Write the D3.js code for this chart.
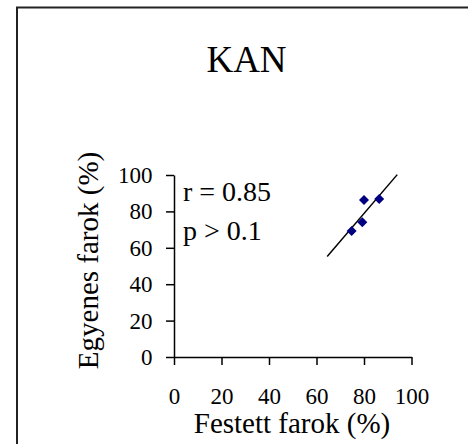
<!DOCTYPE html>
<html>
<head>
<meta charset="utf-8">
<script src="https://cdn.jsdelivr.net/npm/d3@7"></script>
<style>
html,body{margin:0;padding:0;background:#fff;}
svg{display:block;}
</style>
</head>
<body>
<svg id="chart" width="468" height="444"></svg>
<script>
const title = "KAN";
const xLabel = "Festett farok (%)";
const yLabel = "Egyenes farok (%)";
const statLines = ["r = 0.85", "p > 0.1"];
const xTicks = [0, 20, 40, 60, 80, 100];
const yTicks = [0, 20, 40, 60, 80, 100];
const xValues = [80, 86.4, 79.3, 74.8];
const yValues = [86.3, 86.8, 74, 69.2];
const trendX = [64.5, 94];
const trendY = [55.2, 100.2];

const FONT = "'Liberation Serif', 'Times New Roman', Times, serif";
const svg = d3.select("#chart");

// outer frame
svg.append("rect").attr("x", 17).attr("y", 7.5).attr("width", 480).attr("height", 480)
  .attr("fill", "none").attr("stroke", "#222").attr("stroke-width", 2);

const x = d3.scaleLinear().domain([0, 100]).range([174, 411.5]);
const y = d3.scaleLinear().domain([0, 100]).range([357, 175]);

svg.append("text").attr("x", 246.5).attr("y", 72).attr("text-anchor", "middle")
  .style("font-family", FONT).style("font-size", "37px").text(title);

const gx = svg.append("g").attr("transform", `translate(0,${y(0)})`)
  .call(d3.axisBottom(x).tickValues(xTicks).tickSize(8).tickSizeOuter(0).tickFormat(d3.format("d")));
gx.selectAll("text").attr("y", 47).attr("dy", 0);

const gy = svg.append("g").attr("transform", `translate(${x(0)},0)`)
  .call(d3.axisLeft(y).tickValues(yTicks).tickSize(8).tickSizeOuter(0).tickFormat(d3.format("d")));
gy.selectAll("text").attr("x", -21.5).attr("dy", "0.33em");

[gx, gy].forEach(g => {
  g.selectAll("path,line").attr("stroke", "#000").attr("stroke-width", 1.5);
  g.attr("font-family", null).attr("font-size", null);
  g.selectAll("text").style("font-family", FONT).style("font-size", "23px").attr("fill", "#000");
});

svg.append("text").attr("x", 292).attr("y", 433).attr("text-anchor", "middle")
  .style("font-family", FONT).style("font-size", "29px").text(xLabel);

svg.append("text").attr("transform", "translate(98,260.5) rotate(-90)").attr("text-anchor", "middle")
  .style("font-family", FONT).style("font-size", "29px").text(yLabel);

svg.selectAll("text.stat").data(statLines).enter().append("text").attr("class", "stat")
  .attr("x", 183).attr("y", (d, i) => 201 + i * 39)
  .style("font-family", FONT).style("font-size", "28px").text(d => d);

svg.append("line")
  .attr("x1", x(trendX[0])).attr("y1", y(trendY[0]))
  .attr("x2", x(trendX[1])).attr("y2", y(trendY[1]))
  .attr("stroke", "#000").attr("stroke-width", 1.5);

const diamond = d3.symbol().type(d3.symbolSquare).size(50);
svg.selectAll("path.pt").data(xValues.map((v, i) => [v, yValues[i]])).enter()
  .append("path").attr("class", "pt")
  .attr("transform", d => `translate(${x(d[0])},${y(d[1])}) rotate(45)`)
  .attr("d", diamond).attr("fill", "#000080");
</script>
</body>
</html>
